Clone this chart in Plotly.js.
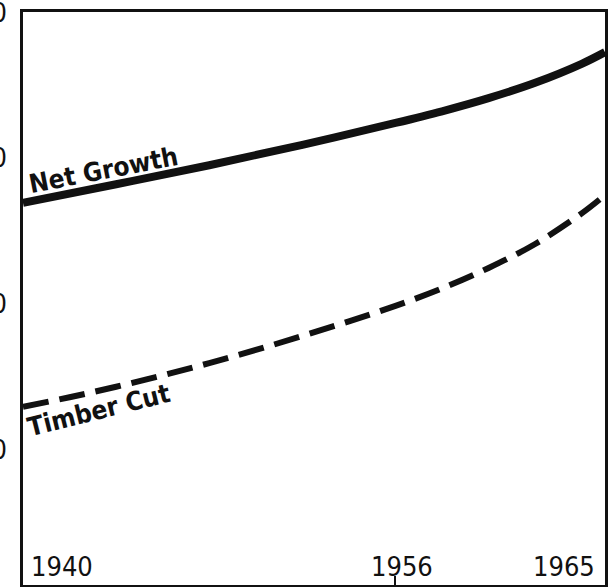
<!DOCTYPE html>
<html>
<head>
<meta charset="utf-8">
<script src="https://cdn.plot.ly/plotly-3.0.1.min.js"></script>
<style>html,body{margin:0;padding:0;background:#fff;}#chart{width:613px;height:587px;}</style>
</head>
<body>
<div id="chart"></div>
<script>
const growthYears = [1940, 1944, 1948, 1952, 1956, 1958, 1960, 1962, 1964, 1965];
const netGrowth   = [26.92, 28.2, 29.5, 30.9, 32.4, 33.2, 34.1, 35.15, 36.45, 37.25];
const cutYears  = [1940, 1942, 1944, 1946, 1948, 1950, 1952, 1954, 1956, 1958, 1960, 1962, 1964, 1965];
const timberCut = [12.95, 13.61, 14.33, 15.11, 15.95, 16.85, 17.81, 18.81, 19.87, 21.07, 22.47, 24.11, 26.21, 27.46];
const xTickYears = [1940, 1956, 1965];
const xTickLabels = ['1940', '1956', '1965'];
const yTickVals = [10, 20, 30, 40];
const yTickLabels = ['10', '20', '30', '40'];
const seriesNames = ['Net Growth', 'Timber Cut'];

const FONT = '"DejaVu Sans Condensed", "Liberation Sans Narrow", sans-serif';

const traces = [
  {x: growthYears, y: netGrowth, name: seriesNames[0], mode: 'lines',
   line: {color: '#111', width: 8, shape: 'spline', smoothing: 1}},
  {x: cutYears, y: timberCut, name: seriesNames[1], mode: 'lines',
   line: {color: '#111', width: 6, shape: 'spline', smoothing: 1, dash: '26px,11px'}}
];

const anchors = ['left', 'center', 'right'];
const shifts = [6, 7, -8];
const annotations = xTickYears.map((yr, i) => ({
  x: yr, xref: 'x', y: 0, yref: 'paper', yanchor: 'bottom', yshift: 1,
  xanchor: anchors[i], xshift: shifts[i], showarrow: false,
  text: xTickLabels[i], font: {family: FONT, size: 27, color: '#111'}
}));
yTickVals.forEach((v, i) => annotations.push({
  x: 0, xref: 'paper', y: v, yref: 'y', xanchor: 'right', yanchor: 'middle',
  xshift: -14, showarrow: false, text: yTickLabels[i],
  font: {family: FONT, size: 27, color: '#111'}
}));
annotations.push({
  x: 0.139, y: 0.724, xref: 'paper', yref: 'paper', xanchor: 'center', yanchor: 'middle',
  showarrow: false, text: '<b>' + seriesNames[0] + '</b>', textangle: -11,
  font: {family: FONT, size: 26, color: '#111'}
});
annotations.push({
  x: 0.131, y: 0.305, xref: 'paper', yref: 'paper', xanchor: 'center', yanchor: 'middle',
  showarrow: false, text: '<b>' + seriesNames[1] + '</b>', textangle: -14,
  font: {family: FONT, size: 26, color: '#111'}
});

const layout = {
  width: 613, height: 587,
  margin: {l: 23, r: 8, t: 12, b: 2, pad: 0},
  paper_bgcolor: '#fff', plot_bgcolor: '#fff',
  showlegend: false,
  xaxis: {range: [1940, 1965], showgrid: false, zeroline: false,
          showline: true, mirror: true, linewidth: 3, linecolor: '#111',
          tickvals: [1956], ticks: 'inside', ticklen: 9, tickwidth: 2, tickcolor: '#111',
          showticklabels: false, automargin: false},
  yaxis: {range: [0.75, 40], showgrid: false, zeroline: false,
          showline: true, mirror: true, linewidth: 3, linecolor: '#111',
          tickvals: yTickVals, ticks: '', showticklabels: false, automargin: false},
  annotations: annotations
};

Plotly.newPlot('chart', traces, layout, {displayModeBar: false, staticPlot: true});
</script>
</body>
</html>
